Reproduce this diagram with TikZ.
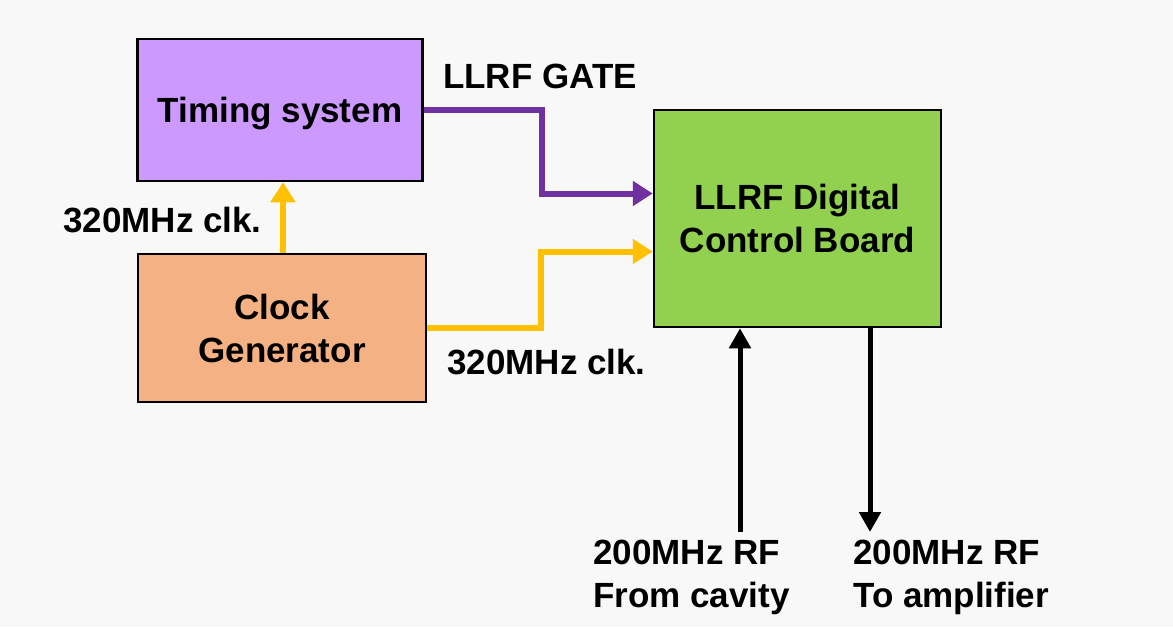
\documentclass[tikz,border=0pt]{standalone}
\usepackage{fontspec}
\setmainfont{Liberation Sans}
\usetikzlibrary{arrows.meta}
\definecolor{bgc}{HTML}{F8F8F8}
\definecolor{tsfill}{HTML}{CC99FF}
\definecolor{cgfill}{HTML}{F4B183}
\definecolor{bdfill}{HTML}{92D050}
\definecolor{purp}{HTML}{7030A0}
\definecolor{oran}{HTML}{FFC000}
\tikzset{
  blk/.style={draw=black, line width=2.5pt, inner sep=0pt, align=center,
    font=\fontsize{35}{43}\selectfont\bfseries},
  lbl/.style={inner sep=0pt, align=left, font=\fontsize{35}{43}\selectfont\bfseries},
  pline/.style={draw=purp, line width=6pt, -{Triangle[length=20pt,width=24pt]}},
  oline/.style={draw=oran, line width=6pt, -{Triangle[length=20pt,width=24pt]}},
  kline/.style={draw=black, line width=5pt, -{Triangle[length=20pt,width=21pt]}}
}
\begin{document}
\begin{tikzpicture}[x=1pt,y=-1pt]
\fill[bgc] (0,0) rectangle (1173,627);
\useasboundingbox (0,0) rectangle (1173,627);
\node[blk, fill=tsfill, minimum width=285pt, minimum height=142pt, text depth=0pt] (ts) at (280,110) {Timing system};
\node[blk, fill=cgfill, minimum width=288pt, minimum height=148pt] (cg) at (282,328) {Clock\\Generator};
\node[blk, fill=bdfill, minimum width=287pt, minimum height=217pt] (bd) at (797.5,218.5) {LLRF Digital\\Control Board};
\coordinate (cin) at (740,532);
\coordinate (cout) at (870,532);
\draw[pline] (ts.east) -- ++(118,0) |- ([yshift=25pt]bd.west);
\draw[oline] (cg.east) -- ++(114,0) |- ([yshift=-33pt]bd.west);
\draw[oline] (cg.north -| 283,0) -- (ts.south -| 283,0);
\draw[kline] (cin) -- (cin |- bd.south);
\draw[kline] (cout |- bd.south) -- (cout);
\node[lbl, anchor=base west] (lg) at (443,88) {LLRF GATE};
\node[lbl, anchor=base west] (c1) at (63,232) {320MHz clk.};
\node[lbl, anchor=base west] (c2) at (447,374) {320MHz clk.};
\node[lbl, anchor=north west] (rf1) at (593,540) {200MHz RF\\From cavity};
\node[lbl, anchor=north west] (rf2) at (853,540) {200MHz RF\\To amplifier};
\end{tikzpicture}
\end{document}
